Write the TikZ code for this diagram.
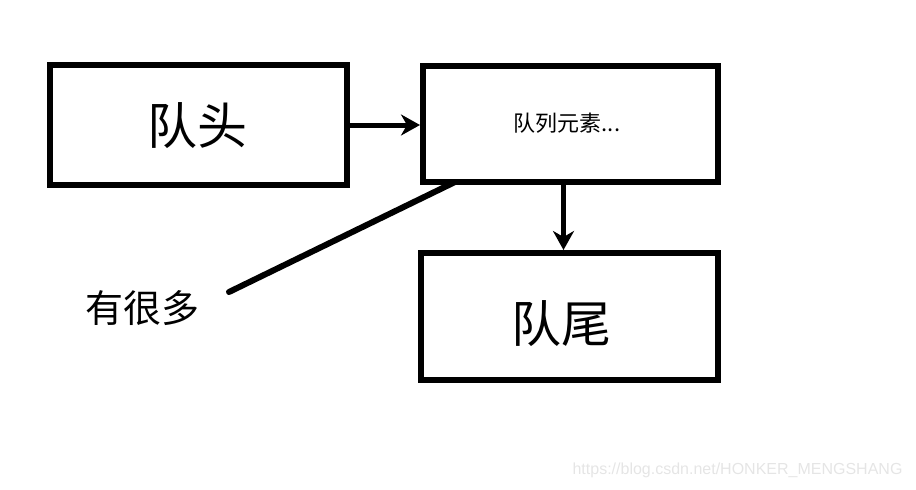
\documentclass[tikz,border=0pt]{standalone}
\usepackage{fontspec}
\setmainfont{Liberation Sans}
\newfontfamily\cjk{Noto Sans CJK SC}
\usetikzlibrary{arrows.meta,positioning}

\begin{document}
\begin{tikzpicture}[x=1pt,y=-1pt,
  qbox/.style={draw,line width=6pt,inner sep=0pt,anchor=north west},
  big/.style={font=\cjk\fontsize{50}{50}\selectfont},
  link/.style={line width=5pt,-{Stealth[length=19pt,width=21pt,inset=6pt]}}]
  \useasboundingbox (0,0) rectangle (916,490);

  % queue boxes
  \node[qbox,minimum width=297pt,minimum height=120pt] (head) at (47,62) {};
  \node[qbox,minimum width=295pt,minimum height=116pt] (elems) at (420,63) {};
  \node[qbox,minimum width=297pt,minimum height=127pt] (tail) at (418,250) {};

  \node[big] (headtxt) at (197,126) {队头};
  \node[font=\cjk\fontsize{22}{22}\selectfont] (elemtxt) at (567,123) {队列元素...};
  \node[big] (tailtxt) at (561,324) {队尾};

  % connectors
  \draw[link] (head.east) -- (head.east -| elems.west);
  \draw[link] ([xshift=-7pt]elems.south) -- ([xshift=-7pt]elems.south |- tail.north);

  % note
  \node[font=\cjk\fontsize{38}{38}\selectfont] (many) at (142,308) {有很多};
  \coordinate (manyend) at (229,292);
  \draw[line width=6pt,line cap=round] ([xshift=35pt,yshift=3pt]elems.south west) -- (manyend);

  \node[font=\fontsize{16}{16}\selectfont,text=black!10,anchor=east] (mark) at (906,470) {https://blog.csdn.net/HONKER\_MENGSHANG};
\end{tikzpicture}
\end{document}
